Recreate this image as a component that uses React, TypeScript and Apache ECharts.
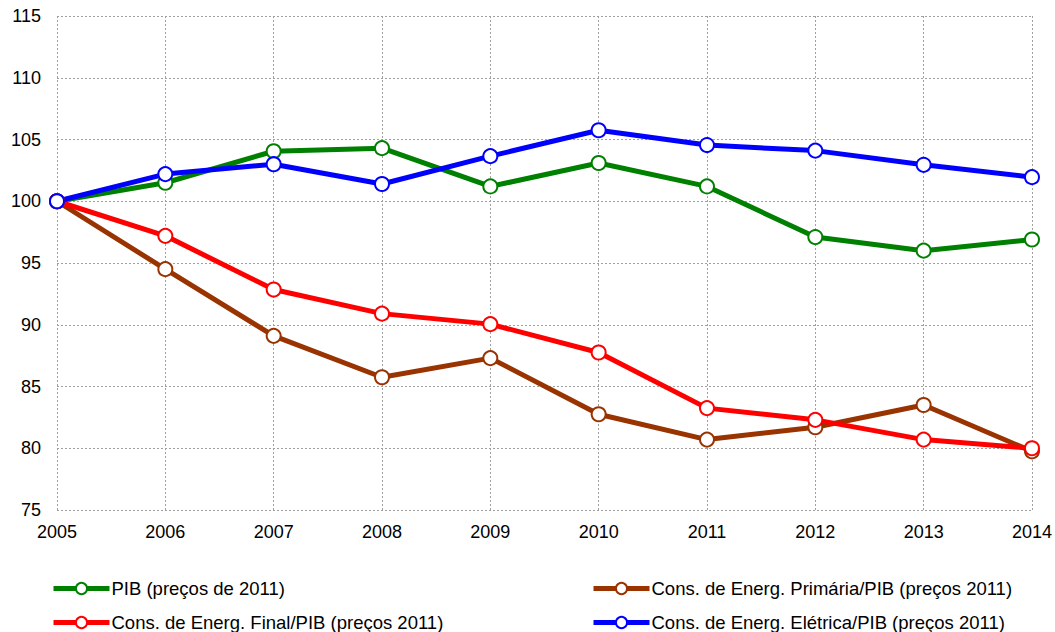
import React, { useEffect, useRef } from "react";
import * as echarts from "echarts";

const years = ["2005", "2006", "2007", "2008", "2009", "2010", "2011", "2012", "2013", "2014"];
const pib = [100, 101.5, 104.05, 104.3, 101.2, 103.1, 101.2, 97.1, 96.0, 96.9];
const primaria = [100, 94.5, 89.1, 85.75, 87.3, 82.75, 80.7, 81.7, 83.5, 79.75];
const finalE = [100, 97.2, 92.85, 90.9, 90.05, 87.75, 83.25, 82.3, 80.7, 80.0];
const eletrica = [100, 102.2, 103.0, 101.4, 103.65, 105.75, 104.55, 104.1, 102.95, 101.95];

const names = {
  pib: "PIB (preços de 2011)",
  primaria: "Cons. de Energ. Primária/PIB (preços 2011)",
  finalE: "Cons. de Energ. Final/PIB (preços 2011)",
  eletrica: "Cons. de Energ. Elétrica/PIB (preços 2011)",
};

const FONT = "'Liberation Sans', Arial, sans-serif";

function mk(name: string, data: number[], color: string) {
  return {
    name,
    type: "line",
    data,
    symbol: "circle",
    symbolSize: 14,
    showSymbol: true,
    lineStyle: { color, width: 5 },
    itemStyle: { color: "#ffffff", borderColor: color, borderWidth: 2 },
    emphasis: { disabled: true },
  };
}

export default function App() {
  const ref = useRef<HTMLDivElement>(null);
  useEffect(() => {
    const chart = echarts.init(ref.current!, undefined, { renderer: "svg" });
    const legendCommon = {
      orient: "vertical",
      itemWidth: 56,
      itemHeight: 14,
      itemGap: 15,
      lineStyle: { width: 5 },
      textStyle: { fontFamily: FONT, fontSize: 18.5, color: "#000", padding: [0, 0, 0, -3] },
      selectedMode: false,
      padding: 0,
    };
    chart.setOption({
      animation: false,
      backgroundColor: "#ffffff",
      grid: { left: 57, right: 23, top: 16, bottom: 122 },
      legend: [
        { ...legendCommon, left: 51, top: 579, data: [names.pib, names.finalE] },
        { ...legendCommon, left: 591, top: 579, data: [names.primaria, names.eletrica] },
      ],
      xAxis: {
        type: "category",
        data: years,
        boundaryGap: false,
        axisLine: { show: false },
        axisTick: { show: false },
        axisLabel: { color: "#000", fontFamily: FONT, fontSize: 18, margin: 13, interval: 0 },
        splitLine: { show: true, lineStyle: { color: "#a0a0a0", type: [2, 2], width: 1 } },
      },
      yAxis: {
        type: "value",
        min: 75,
        max: 115,
        interval: 5,
        axisLine: { show: false },
        axisTick: { show: false },
        axisLabel: { color: "#000", fontFamily: FONT, fontSize: 18, margin: 16 },
        splitLine: { show: true, lineStyle: { color: "#a0a0a0", type: [2, 2], width: 1 } },
      },
      series: [
        mk(names.pib, pib, "#008000"),
        mk(names.primaria, primaria, "#993300"),
        mk(names.finalE, finalE, "#ff0000"),
        mk(names.eletrica, eletrica, "#0000ff"),
      ],
    });
    return () => chart.dispose();
  }, []);
  return <div ref={ref} style={{ width: 1055, height: 632, position: "absolute", left: 0, top: 0 }} />;
}
